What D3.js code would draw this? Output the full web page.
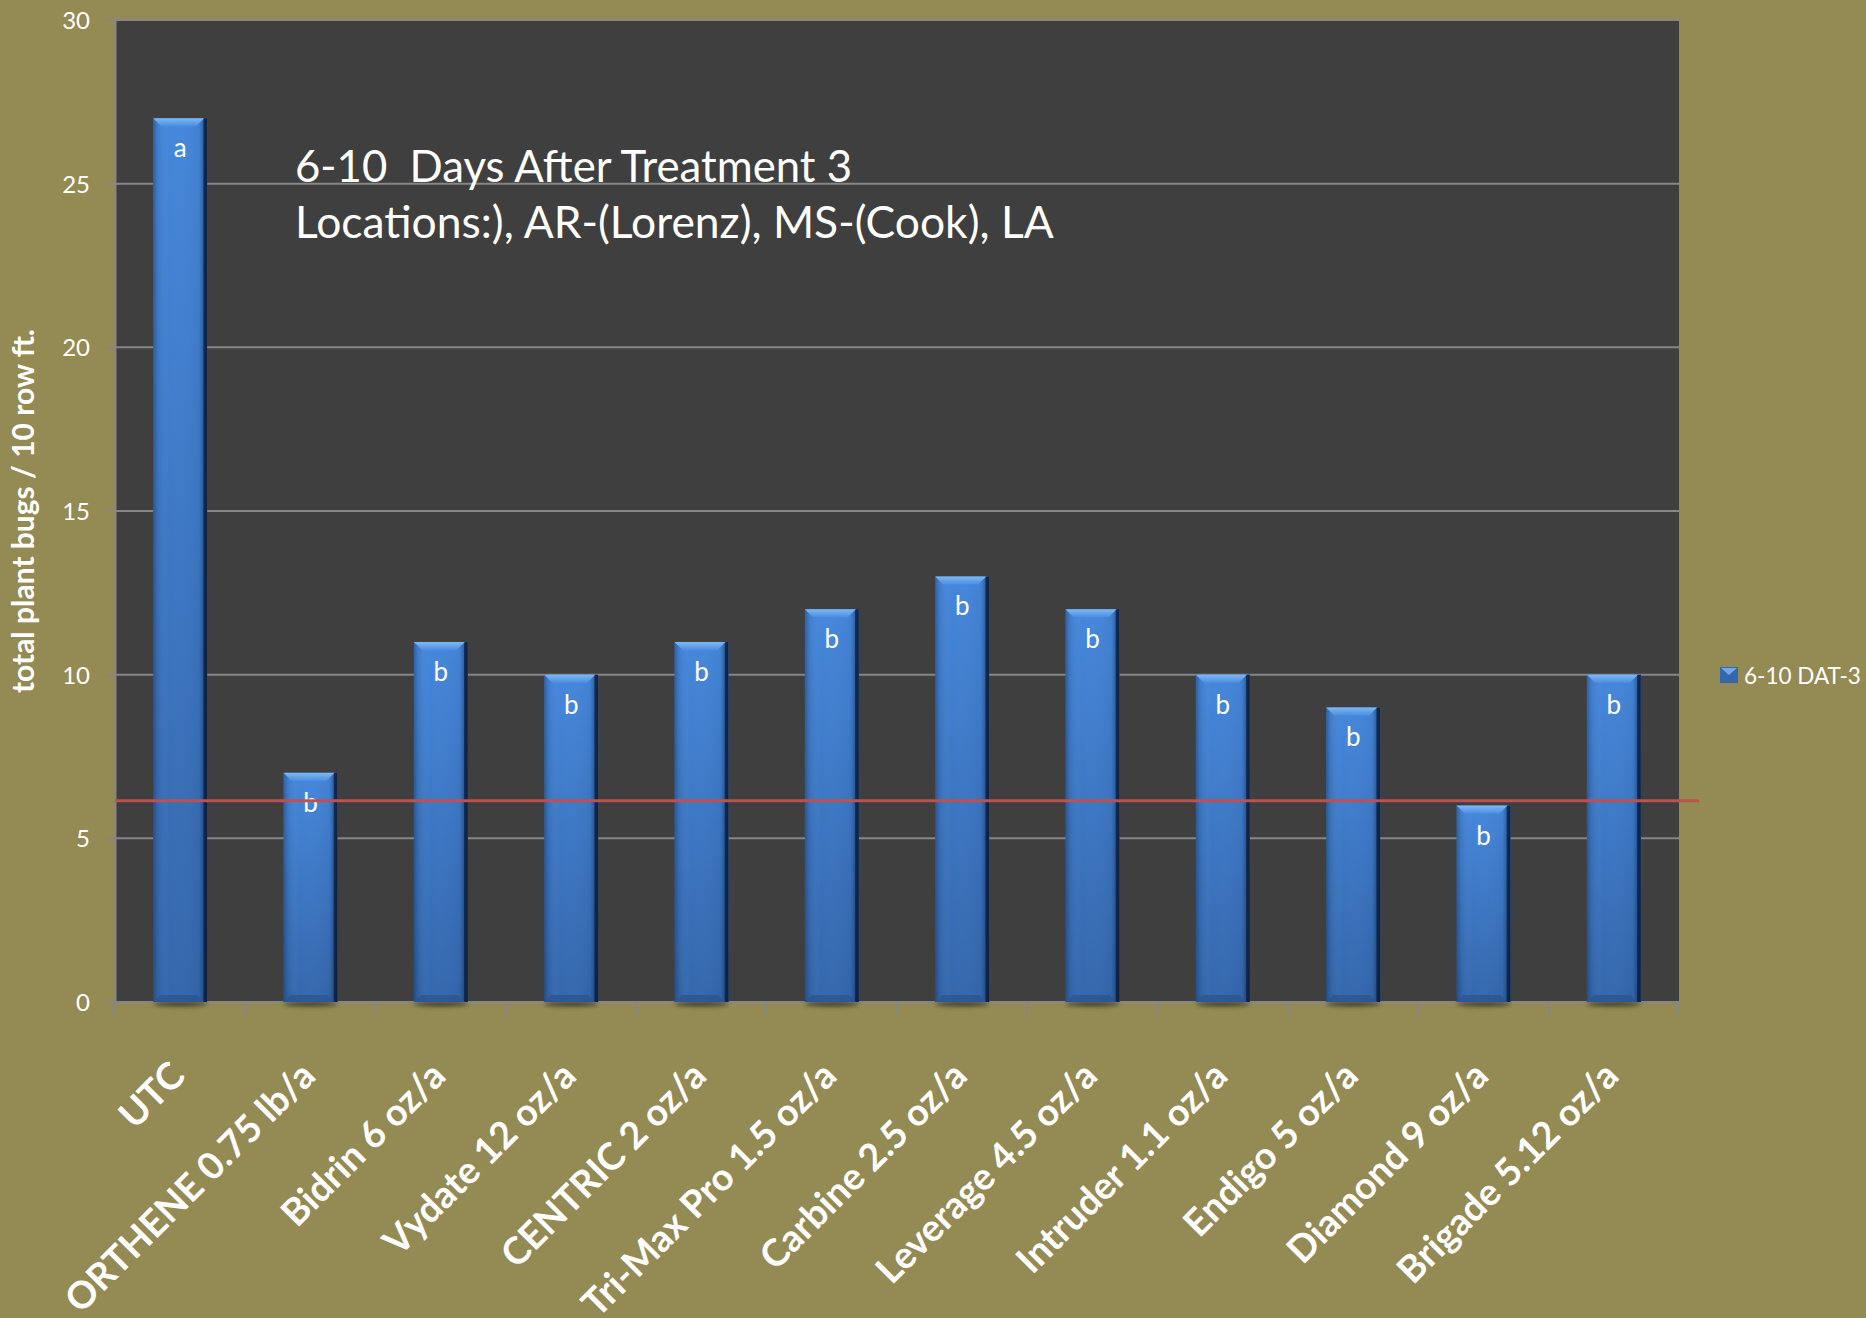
<!DOCTYPE html>
<html>
<head>
<meta charset="utf-8">
<script src="https://cdn.jsdelivr.net/npm/d3@7"></script>
<style>
  html, body { margin: 0; padding: 0; background: #948A54; }
  svg { display: block; }
  text { font-family: Lato, "Open Sans", sans-serif; fill: #ffffff; }
</style>
</head>
<body>
<svg id="chart" width="1866" height="1318"></svg>
<script>
const categories = ["UTC", "ORTHENE 0.75 lb/a", "Bidrin 6 oz/a", "Vydate 12 oz/a", "CENTRIC 2 oz/a",
  "Tri-Max Pro 1.5 oz/a", "Carbine 2.5 oz/a", "Leverage 4.5 oz/a", "Intruder 1.1 oz/a",
  "Endigo 5 oz/a", "Diamond 9 oz/a", "Brigade 5.12 oz/a"];
const values = [27, 7, 11, 10, 11, 12, 13, 12, 10, 9, 6, 10];
const letters = ["a", "b", "b", "b", "b", "b", "b", "b", "b", "b", "b", "b"];
const yTicks = [0, 5, 10, 15, 20, 25, 30];
const thresholdValue = 6.15;
const seriesName = "6-10 DAT-3";
const titleLines = ["6-10  Days After Treatment 3", "Locations:), AR-(Lorenz), MS-(Cook), LA"];
const yAxisTitle = "total plant bugs / 10 row ft.";

const svg = d3.select("#chart");
const W = 1866, H = 1318;
const plot = { left: 115, right: 1679, top: 20, bottom: 1002 };

svg.append("rect").attr("width", W).attr("height", H).attr("fill", "#948A54");

const x = d3.scaleBand().domain(categories).range([plot.left, plot.right])
  .paddingInner(0.586).paddingOuter(0.293);
const y = d3.scaleLinear().domain([0, 30]).range([plot.bottom, plot.top]);

// defs
const defs = svg.append("defs");
const gV = defs.append("linearGradient").attr("id", "barV").attr("x1", 0).attr("y1", 0).attr("x2", 0).attr("y2", 1);
gV.append("stop").attr("offset", "0%").attr("stop-color", "#4587DB");
gV.append("stop").attr("offset", "100%").attr("stop-color", "#3467AC");
const gH = defs.append("linearGradient").attr("id", "barH").attr("x1", 0).attr("y1", 0).attr("x2", 1).attr("y2", 0);
gH.append("stop").attr("offset", "0%").attr("stop-color", "#0a1c3a").attr("stop-opacity", 0.35);
gH.append("stop").attr("offset", "8%").attr("stop-color", "#0a1c3a").attr("stop-opacity", 0.1);
gH.append("stop").attr("offset", "30%").attr("stop-color", "#ffffff").attr("stop-opacity", 0.0);
gH.append("stop").attr("offset", "85%").attr("stop-color", "#0a1c3a").attr("stop-opacity", 0.05);
gH.append("stop").attr("offset", "92%").attr("stop-color", "#0a1c3a").attr("stop-opacity", 0.3);
gH.append("stop").attr("offset", "94%").attr("stop-color", "#0a1c3a").attr("stop-opacity", 0.85);
gH.append("stop").attr("offset", "100%").attr("stop-color", "#0a1c3a").attr("stop-opacity", 0.95);
const gTop = defs.append("linearGradient").attr("id", "barTop").attr("x1", 0).attr("y1", 0).attr("x2", 0).attr("y2", 1);
gTop.append("stop").attr("offset", "0%").attr("stop-color", "#7DB9F5");
gTop.append("stop").attr("offset", "100%").attr("stop-color", "#4C8EE0");
const blur = defs.append("filter").attr("id", "shadow").attr("x", "-20%").attr("y", "-200%").attr("width", "140%").attr("height", "500%");
blur.append("feGaussianBlur").attr("stdDeviation", 2);

// plot background
svg.append("rect").attr("x", plot.left).attr("y", plot.top)
  .attr("width", plot.right - plot.left).attr("height", plot.bottom - plot.top)
  .attr("fill", "#3F3F3F");

// gridlines
svg.append("g").selectAll("line").data(yTicks.filter(t => t > 0)).join("line")
  .attr("x1", plot.left).attr("x2", plot.right)
  .attr("y1", d => y(d)).attr("y2", d => y(d))
  .attr("stroke", "#868686").attr("stroke-width", 2);

// y axis
const yAxis = d3.axisLeft(y).tickValues(yTicks).tickSize(8).tickPadding(10);
const gy = svg.append("g").attr("transform", `translate(${plot.left},0)`).call(yAxis);
gy.select(".domain").attr("stroke", "#868686").attr("stroke-width", 2);
gy.selectAll(".tick line").attr("stroke", "#868686").attr("stroke-width", 2);
gy.selectAll(".tick text").attr("font-size", 24).attr("fill", "#ffffff")
  .attr("font-family", "Lato, sans-serif").attr("x", -25).attr("dy", "0.35em");

// x axis line and ticks at band boundaries
const step = x.step();
const boundaries = d3.range(categories.length + 1).map(i => plot.left + i * step);
svg.append("line").attr("x1", plot.left).attr("x2", plot.right)
  .attr("y1", plot.bottom).attr("y2", plot.bottom).attr("stroke", "#868686").attr("stroke-width", 2);
svg.append("g").selectAll("line").data(boundaries).join("line")
  .attr("x1", d => d).attr("x2", d => d).attr("y1", plot.bottom).attr("y2", plot.bottom + 14)
  .attr("stroke", "#868686").attr("stroke-width", 2);

// bars
const bw = x.bandwidth();
const bars = svg.append("g").selectAll("g").data(categories).join("g");
bars.append("ellipse")
  .attr("cx", d => x(d) + bw / 2).attr("cy", plot.bottom + 2)
  .attr("rx", bw / 2).attr("ry", 2.5).attr("fill", "rgba(0,0,0,0.55)").attr("filter", "url(#shadow)");
bars.append("rect")
  .attr("x", d => x(d)).attr("y", (d, i) => y(values[i]))
  .attr("width", bw).attr("height", (d, i) => plot.bottom - y(values[i]))
  .attr("fill", "url(#barV)");
bars.append("rect")
  .attr("x", d => x(d)).attr("y", (d, i) => y(values[i]))
  .attr("width", bw).attr("height", (d, i) => plot.bottom - y(values[i]))
  .attr("fill", "url(#barH)");
// top bevel
bars.append("path")
  .attr("d", (d, i) => {
    const x0 = x(d), x1 = x(d) + bw - 3, t = y(values[i]), b = 8;
    return `M${x0},${t} L${x1},${t} L${x1 - b},${t + b} L${x0 + b},${t + b} Z`;
  })
  .attr("fill", "url(#barTop)");
// bottom bevel
bars.append("path")
  .attr("d", d => {
    const x0 = x(d), x1 = x(d) + bw - 3, bt = plot.bottom, b = 7;
    return `M${x0},${bt} L${x1},${bt} L${x1 - b},${bt - b} L${x0 + b},${bt - b} Z`;
  })
  .attr("fill", "#2B5690").attr("opacity", 0.8);
// letters
bars.append("text")
  .attr("x", d => x(d) + bw / 2).attr("y", (d, i) => y(values[i]) + 39)
  .attr("text-anchor", "middle").attr("font-size", 26)
  .text((d, i) => letters[i]);

// threshold line
svg.append("line")
  .attr("x1", plot.left).attr("x2", 1699)
  .attr("y1", y(thresholdValue)).attr("y2", y(thresholdValue))
  .attr("stroke", "#C0504D").attr("stroke-width", 3);

// helper to fit text to a width
function fitText(sel, targetLen) {
  const node = sel.node();
  const fs = parseFloat(sel.attr("font-size"));
  const len = node.getComputedTextLength();
  sel.attr("font-size", (fs * targetLen / len).toFixed(2));
}

// title
const title = svg.append("g");
const titleTargets = [557, 759];
const titleBaselines = [182, 238];
titleLines.forEach((t, i) => {
  const tx = title.append("text").attr("x", 295).attr("y", titleBaselines[i])
    .attr("font-size", 40).style("white-space", "pre").text(t);
  fitText(tx, titleTargets[i]);
});

// y axis title
const yt = svg.append("text")
  .attr("transform", `translate(34, ${(plot.top + plot.bottom) / 2}) rotate(-90)`)
  .attr("text-anchor", "middle").attr("font-weight", "bold").attr("font-size", 22)
  .text(yAxisTitle);
fitText(yt, 364);

// x labels
const xl = svg.append("g").selectAll("text").data(categories).join("text")
  .attr("text-anchor", "end").attr("font-weight", "bold").attr("font-size", 30)
  .attr("transform", d => `translate(${x(d) + bw / 2 + 7}, ${plot.bottom + 76}) rotate(-45)`)
  .text(d => d);
// scale x label font so "Brigade 5.12 oz/a" measures ~294px
const ref = xl.filter(d => d === "Brigade 5.12 oz/a");
const refLen = ref.node().getComputedTextLength();
xl.attr("font-size", (30 * 294 / refLen).toFixed(2));

// legend
const lg = svg.append("g").attr("transform", "translate(1720, 667)");
lg.append("rect").attr("width", 18).attr("height", 16).attr("fill", "#3567AC");
lg.append("path").attr("d", "M1,1 L17,1 L9,8 Z").attr("fill", "#6FA9EE");
lg.append("text").attr("x", 24).attr("y", 17).attr("font-size", 22.5).text(seriesName);
</script>
</body>
</html>
